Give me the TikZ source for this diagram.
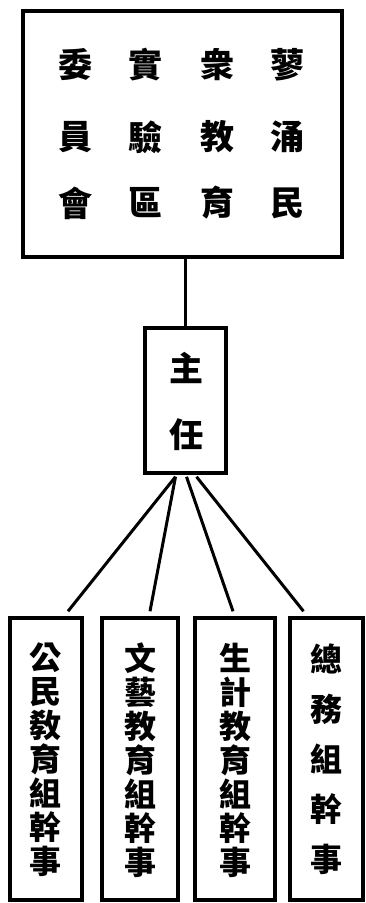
\documentclass[tikz,border=0pt]{standalone}
\usepackage{fontspec}
\newfontfamily\cjk{Noto Sans CJK TC Black}
\usetikzlibrary{calc}
\begin{document}
\begin{tikzpicture}[x=1pt,y=-1pt,
  box/.style={draw, line width=3.5pt, inner sep=0pt},
  link/.style={line width=3pt},
  ch/.style={font=\cjk\fontsize{34}{34}\selectfont, inner sep=0pt},
  chs/.style={font=\cjk\fontsize{32}{32}\selectfont, inner sep=0pt, align=center}]
\useasboundingbox (0,0) rectangle (366,903);
% top box
\node[box, minimum width=319pt, minimum height=246pt] (top) at (182.5,134) {};
\node[ch] (t1) at (287,65) {蓼};
\node[ch] (t2) at (287,137) {涌};
\node[ch] (t3) at (287,203) {民};
\node[ch] (t4) at (217,65) {衆};
\node[ch] (t5) at (217,137) {教};
\node[ch] (t6) at (217,203) {育};
\node[ch] (t7) at (145,65) {實};
\node[ch] (t8) at (145,137) {驗};
\node[ch] (t9) at (145,203) {區};
\node[ch] (t10) at (75,65) {委};
\node[ch] (t11) at (75,137) {員};
\node[ch] (t12) at (75,203) {會};
% director
\node[box, minimum width=81pt, minimum height=145pt] (zr) at (185.5,400.5) {};
\node[ch] (z1) at (186,368) {主};
\node[ch] (z2) at (186,435) {任};
% bottom boxes
\node[box, minimum width=72pt, minimum height=282pt] (b1) at (46,759) {};
\node[box, minimum width=76pt, minimum height=282pt] (b2) at (140,759) {};
\node[box, minimum width=80pt, minimum height=282pt] (b3) at (235,759) {};
\node[box, minimum width=73pt, minimum height=282pt] (b4) at (326.5,759) {};
\node[chs] (l1) at (46,760) {公\\[2pt]民\\[2pt]敎\\[2pt]育\\[2pt]組\\[2pt]幹\\[2pt]事};
\node[chs] (l2) at (140,760) {文\\[2pt]藝\\[2pt]教\\[2pt]育\\[2pt]組\\[2pt]幹\\[2pt]事};
\node[chs] (l3) at (235,760) {生\\[2pt]計\\[2pt]教\\[2pt]育\\[2pt]組\\[2pt]幹\\[2pt]事};
\node[chs] (l4) at (326,759) {總\\[18pt]務\\[18pt]組\\[18pt]幹\\[18pt]事};
% connectors
\draw[link] (top.south -| zr.north) -- (zr.north);
\coordinate (s1) at ($(zr.south)+(-10,2)$);
\coordinate (s2) at ($(zr.south)+(-10,2)$);
\coordinate (s3) at ($(zr.south)+(1,2)$);
\coordinate (s4) at ($(zr.south)+(11,2)$);
\draw[link] (s1) -- ($(b1.north)+(22,-5)$);
\draw[link] (s2) -- ($(b2.north)+(10,-5)$);
\draw[link] (s3) -- ($(b3.north)+(-2,-5)$);
\draw[link] (s4) -- ($(b4.north)+(-23,-5)$);
\end{tikzpicture}
\end{document}
